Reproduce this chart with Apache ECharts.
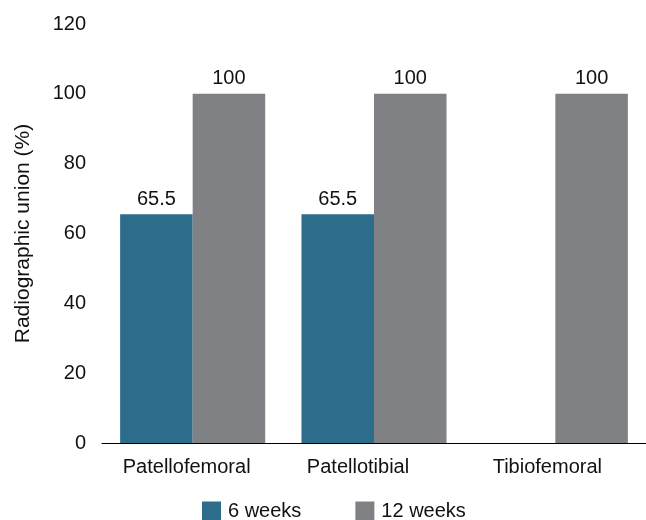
<!DOCTYPE html>
<html><head><meta charset="utf-8">
<script src="https://cdn.jsdelivr.net/npm/echarts@6/dist/echarts.min.js"></script>
<style>html,body{margin:0;padding:0;background:#fff}#c{width:646px;height:520px}</style>
</head><body><div id="c"></div>
<script>
const categories = ['Patellofemoral', 'Patellotibial', 'Tibiofemoral'];
const weeks6 = [65.5, 65.5, null];
const weeks12 = [100, 100, 100];
const yTicks = [0, 20, 40, 60, 80, 100, 120];

// small leftward nudges of category labels, as in the original layout (px)
const labelShift = [6, 16, 8];

const chart = echarts.init(document.getElementById('c'));
const font = 'Liberation Sans, Arial, sans-serif';
const fs = 20;
const lbl = {show: true, position: 'top', fontSize: fs, color: '#111', fontFamily: font, distance: 5};
chart.setOption({
  animation: false,
  grid: {left: 102, right: 0, top: 24, bottom: 77},
  legend: {
    top: 496, left: 197, itemWidth: 19, itemHeight: 19, itemGap: 54,
    icon: 'rect',
    textStyle: {fontSize: fs, color: '#111', fontFamily: font, padding: [0, 0, 0, 2]},
    data: ['6 weeks', '12 weeks']
  },
  xAxis: {
    type: 'category',
    data: categories.map((c, i) => ({value: c, textStyle: {padding: [0, labelShift[i] * 2, 0, 0]}})),
    axisLine: {lineStyle: {color: '#000', width: 1}},
    axisTick: {show: false},
    axisLabel: {fontSize: fs, color: '#111', fontFamily: font, margin: 14}
  },
  yAxis: {
    type: 'value', min: yTicks[0], max: yTicks[yTicks.length - 1], interval: 20,
    name: 'Radiographic union (%)', nameLocation: 'middle', nameGap: 68,
    nameTextStyle: {fontSize: 21, color: '#111', fontFamily: font},
    axisLine: {show: false}, axisTick: {show: false}, splitLine: {show: false},
    axisLabel: {fontSize: 20, color: '#111', fontFamily: font, margin: 16}
  },
  series: [
    {name: '6 weeks', type: 'bar', data: weeks6, barGap: '0%', barCategoryGap: '20%',
     itemStyle: {color: '#2e6c8c'}, label: lbl},
    {name: '12 weeks', type: 'bar', data: weeks12, barGap: '0%', barCategoryGap: '20%',
     itemStyle: {color: '#808185'}, label: lbl}
  ]
});
</script></body></html>
